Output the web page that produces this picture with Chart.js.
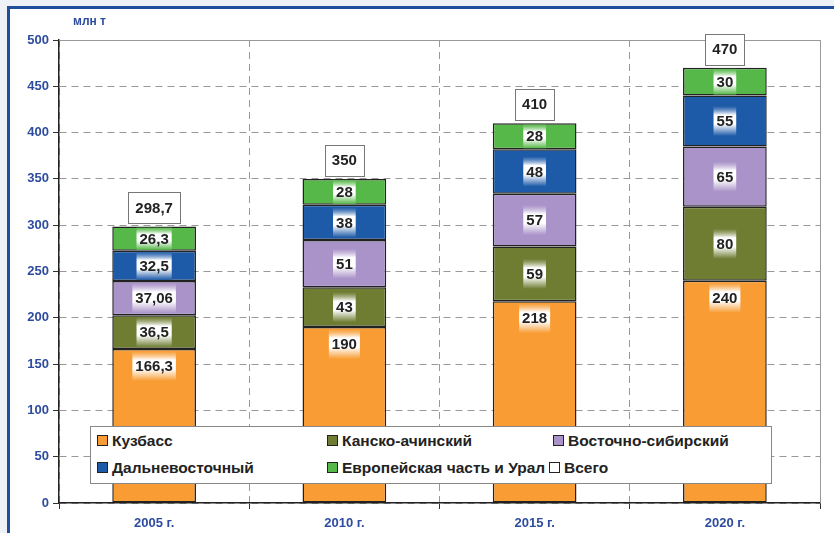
<!DOCTYPE html>
<html>
<head>
<meta charset="utf-8">
<script src="https://cdn.jsdelivr.net/npm/chart.js@4/dist/chart.umd.min.js"></script>
<style>
  body { margin: 0; width: 834px; height: 533px; overflow: hidden; background: #eef1f5; position: relative; font-family: "Liberation Sans", Arial, sans-serif; }
  #frame { position: absolute; left: 7px; top: 6px; width: 900px; height: 600px; border: 3px solid #1f4f9c; background: #fff; }
  #chart { position: absolute; left: 0; top: 0; }
  #legend { position: absolute; left: 90px; top: 426px; width: 680px; height: 56px; background: #fff; border: 1px solid #888; }
  #legend .item { position: absolute; font-weight: bold; font-size: 15.5px; color: #222; white-space: nowrap; line-height: 18px; }
  #legend .box { display: inline-block; width: 9px; height: 9px; border: 1px solid #222; margin-right: 4px; vertical-align: 0px; }
</style>
</head>
<body>
<div id="frame"></div>
<canvas id="chart" width="834" height="533"></canvas>
<div id="legend"></div>
<script>
// data
const years = ['2005 г.', '2010 г.', '2015 г.', '2020 г.'];
const kuzbass = [166.3, 190, 218, 240];
const kanskAchinsk = [36.5, 43, 59, 80];
const vostSib = [37.06, 51, 57, 65];
const dalnevost = [32.5, 38, 48, 55];
const evropUral = [26.3, 28, 28, 30];
const total = [298.7, 350, 410, 470];

const seriesNames = ['Кузбасс', 'Канско-ачинский', 'Восточно-сибирский', 'Дальневосточный', 'Европейская часть и Урал'];
const seriesColors = ['#f89c33', '#6f7d33', '#aa93c9', '#1d5aa8', '#56b848'];
const seriesData = [kuzbass, kanskAchinsk, vostSib, dalnevost, evropUral];

const blue = '#2e4c9f';
const font = '"Liberation Sans", Arial, sans-serif';

function fmt(v) {
  return String(v).replace('.', ',');
}

// legend (html)
const legendPos = [[6, 5], [236, 5], [462, 5], [6, 32], [236, 32], [458, 32]];
const legendItems = seriesNames.map((n, i) => [n, seriesColors[i]]).concat([['Всего', '#fff']]);
const legendEl = document.getElementById('legend');
legendItems.forEach((it, i) => {
  const d = document.createElement('div');
  d.className = 'item';
  d.style.left = legendPos[i][0] + 'px';
  d.style.top = legendPos[i][1] + 'px';
  d.innerHTML = '<span class="box" style="background:' + it[1] + '"></span>' + it[0];
  legendEl.appendChild(d);
});

// plot frame + unit title
const framePlugin = {
  id: 'frame',
  beforeDatasetsDraw(chart) {
    const a = chart.chartArea;
    const ctx = chart.ctx;
    ctx.save();
    ctx.strokeStyle = '#999';
    ctx.lineWidth = 1;
    ctx.beginPath();
    ctx.moveTo(a.left, a.top + 0.5);
    ctx.lineTo(a.right + 0.5, a.top + 0.5);
    ctx.lineTo(a.right + 0.5, a.bottom);
    ctx.stroke();
    ctx.fillStyle = blue;
    ctx.font = 'bold 12px ' + font;
    ctx.textBaseline = 'middle';
    ctx.fillText('млн т', 73, 22);
    ctx.restore();
  }
};

// value labels in segments and totals above
const labelPlugin = {
  id: 'labels',
  afterDatasetsDraw(chart) {
    const ctx = chart.ctx;
    ctx.save();
    ctx.font = 'bold 15px ' + font;
    ctx.textAlign = 'center';
    ctx.textBaseline = 'middle';
    chart.data.datasets.forEach((ds, di) => {
      const meta = chart.getDatasetMeta(di);
      meta.data.forEach((bar, i) => {
        const txt = fmt(ds.data[i]);
        const top = bar.y, bottom = bar.base;
        const h = Math.min(30, bottom - top - 2);
        const cy = di === 0 ? top + 17 : (top + bottom) / 2;
        const w = ctx.measureText(txt).width + 6;
        const g = ctx.createLinearGradient(0, cy - h / 2, 0, cy + h / 2);
        g.addColorStop(0, ds.backgroundColor + '99');
        g.addColorStop(0.3, '#ffffff');
        g.addColorStop(0.6, '#ffffff');
        g.addColorStop(1, ds.backgroundColor);
        ctx.fillStyle = g;
        ctx.fillRect(bar.x - w / 2, cy - h / 2, w, h);
        ctx.fillStyle = '#222';
        ctx.fillText(txt, bar.x, cy + 1);
      });
    });
    // totals
    const last = chart.getDatasetMeta(chart.data.datasets.length - 1);
    last.data.forEach((bar, i) => {
      const txt = fmt(total[i]);
      const w = ctx.measureText(txt).width + 14;
      const y0 = bar.y - 34;
      ctx.fillStyle = '#fff';
      ctx.fillRect(bar.x - w / 2, y0, w, 31);
      ctx.strokeStyle = '#777';
      ctx.lineWidth = 1;
      ctx.strokeRect(Math.round(bar.x - w / 2) + 0.5, Math.round(y0) + 0.5, Math.round(w), 31);
      ctx.fillStyle = '#222';
      ctx.fillText(txt, bar.x, y0 + 16);
    });
    ctx.restore();
  }
};

new Chart(document.getElementById('chart'), {
  type: 'bar',
  data: {
    labels: years,
    datasets: seriesNames.map((n, i) => ({
      label: n,
      data: seriesData[i],
      backgroundColor: seriesColors[i],
      borderColor: '#222',
      borderWidth: 1.5,
      borderSkipped: false,
      barPercentage: 0.44,
      categoryPercentage: 1
    }))
  },
  options: {
    responsive: false,
    animation: false,
    devicePixelRatio: 1,
    layout: { padding: { top: 40, right: 14, left: 0, bottom: 0 } },
    plugins: {
      legend: { display: false },
      tooltip: { enabled: false }
    },
    scales: {
      x: {
        stacked: true,
        afterFit: s => { s.height = 30; },
        grid: { offset: true, color: '#999', tickLength: 6, tickColor: '#333' },
        border: { color: '#222', width: 1.5, dash: [7, 5] },
        ticks: { color: blue, font: { family: font, size: 13, weight: 'bold' }, padding: 7 }
      },
      y: {
        stacked: true,
        min: 0,
        max: 500,
        afterFit: s => { s.width = 59; },
        grid: { color: '#999', tickLength: 6, tickColor: '#333' },
        border: { color: '#222', width: 1.5, dash: [7, 5] },
        ticks: { stepSize: 50, color: blue, font: { family: font, size: 13, weight: 'bold' }, padding: 4 }
      }
    }
  },
  plugins: [framePlugin, labelPlugin]
});
</script>
</body>
</html>
